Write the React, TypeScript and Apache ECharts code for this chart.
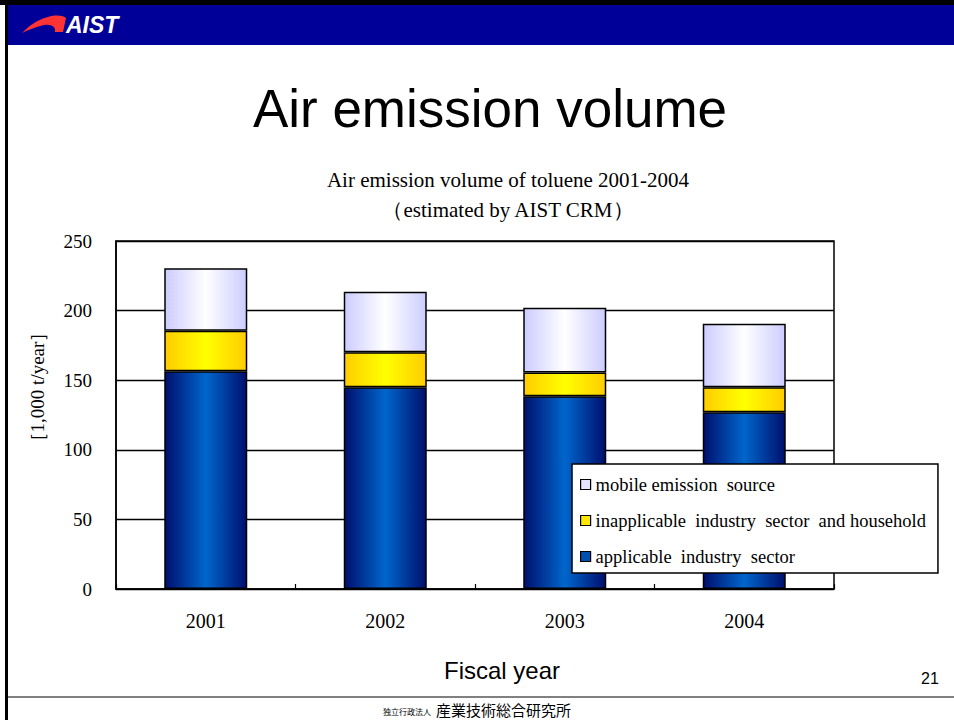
import React, { useEffect, useRef } from "react";
import * as echarts from "echarts";

const years = ["2001", "2002", "2003", "2004"];
const applicable = [156.5, 145, 138.5, 127];
const inapplicable = [29, 25, 17, 18];
const mobile = [45, 43.5, 46.5, 45.5];
const yTicks = { min: 0, max: 250, interval: 50 };

const NAME_APP = "applicable  industry  sector";
const NAME_INAPP = "inapplicable  industry  sector  and household";
const NAME_MOB = "mobile emission  source";

const SERIF = "'Liberation Serif', 'Times New Roman', serif";
const SANS = "'Liberation Sans', Arial, sans-serif";

const grad = (edge: string, mid: string) =>
  new echarts.graphic.LinearGradient(0, 0, 1, 0, [
    { offset: 0, color: edge },
    { offset: 0.5, color: mid },
    { offset: 1, color: edge },
  ]);

let registered = false;
function registerLogo() {
  if (registered) return;
  registered = true;
  echarts.graphic.registerShape(
    "aistswoosh",
    echarts.graphic.extendPath(
      "M0 19 C6 13 14 6 26 3 C33 1 40 1 44 4 L41 18 L33 18 C34 13 30 10 22 11 C13 13 6 16 0 19 Z",
      {}
    ) as any
  );
}

export default function App() {
  const ref = useRef<HTMLDivElement>(null);
  useEffect(() => {
    document.body.style.margin = "0";
    registerLogo();
    const chart = echarts.init(ref.current!, null, { renderer: "svg" });
    const border = { borderColor: "#000", borderWidth: 1.5 };
    chart.setOption({
      animation: false,
      backgroundColor: "#fff",
      title: {
        text: "Air emission volume of toluene 2001-2004\n（estimated by AIST CRM）",
        left: 503,
        top: 160,
        textAlign: "center",
        textStyle: {
          fontFamily: SERIF,
          fontSize: 21,
          fontWeight: "normal",
          color: "#000",
          lineHeight: 30,
        },
      },
      grid: {
        left: 116,
        right: 120,
        top: 241,
        bottom: 131,
        show: true,
        borderColor: "#000",
        borderWidth: 1.5,
        backgroundColor: "transparent",
      },
      legend: {
        orient: "vertical",
        left: 572,
        top: 464,
        padding: [11, 12, 7, 8],
        itemGap: 17,
        itemWidth: 10,
        itemHeight: 10,
        itemTextGap: 3,
        backgroundColor: "#fff",
        borderColor: "#000",
        borderWidth: 1.5,
        selectedMode: false,
        textStyle: { fontFamily: SERIF, fontSize: 18.5, color: "#000", lineHeight: 18 },
        data: [
          { name: NAME_MOB, icon: "rect", itemStyle: { color: "#E4E4FF", borderColor: "#000", borderWidth: 1.2 } },
          { name: NAME_INAPP, icon: "rect", itemStyle: { color: "#FFE800", borderColor: "#000", borderWidth: 1.2 } },
          { name: NAME_APP, icon: "rect", itemStyle: { color: "#0050B0", borderColor: "#000", borderWidth: 1.2 } },
        ],
      },
      xAxis: {
        type: "category",
        data: years,
        axisLine: { lineStyle: { color: "#000", width: 1.5 } },
        axisTick: { show: true, inside: true, length: 5, lineStyle: { color: "#000", width: 1.2 } },
        axisLabel: { fontFamily: SERIF, fontSize: 20, color: "#000", margin: 22 },
        splitLine: { show: false },
      },
      yAxis: {
        type: "value",
        min: yTicks.min,
        max: yTicks.max,
        interval: yTicks.interval,
        axisLine: { show: true, lineStyle: { color: "#000", width: 1.5 } },
        axisTick: { show: false },
        axisLabel: { fontFamily: SERIF, fontSize: 19, color: "#000", margin: 24 },
        splitLine: { show: true, lineStyle: { color: "#000", width: 1.4 } },
      },
      series: [
        {
          name: NAME_APP,
          type: "bar",
          stack: "total",
          barWidth: 83,
          data: applicable,
          itemStyle: { color: grad("#00106E", "#0066CC"), ...border },
        },
        {
          name: NAME_INAPP,
          type: "bar",
          stack: "total",
          barWidth: 83,
          data: inapplicable,
          itemStyle: { color: grad("#FFCC00", "#FFFF00"), ...border },
        },
        {
          name: NAME_MOB,
          type: "bar",
          stack: "total",
          barWidth: 83,
          data: mobile,
          itemStyle: { color: grad("#CCCCFF", "#FFFFFF"), ...border },
        },
      ],
      graphic: [
        { type: "rect", shape: { x: 0, y: 0, width: 954, height: 5 }, style: { fill: "#000" }, z: 10 },
        { type: "rect", shape: { x: 5, y: 0, width: 3, height: 720 }, style: { fill: "#000" }, z: 10 },
        { type: "rect", shape: { x: 8, y: 5, width: 946, height: 40 }, style: { fill: "#000099" }, z: 10 },
        {
          type: "aistswoosh",
          x: 22,
          y: 14,
          scaleX: 1,
          scaleY: 1,
          style: { fill: "#FF3333" },
          z: 11,
        },
        {
          type: "text",
          x: 66,
          y: 25,
          style: {
            text: "AIST",
            fill: "#fff",
            font: "italic bold 23px " + SANS,
            verticalAlign: "middle",
          },
          z: 11,
        },
        {
          type: "text",
          x: 490,
          y: 108,
          style: {
            text: "Air emission volume",
            fill: "#000",
            font: "53px " + SANS,
            align: "center",
            verticalAlign: "middle",
          },
        },
        {
          type: "text",
          x: 37,
          y: 387,
          rotation: Math.PI / 2,
          style: {
            text: "［1,000 t/year］",
            fill: "#000",
            font: "19px " + SERIF,
            align: "center",
            verticalAlign: "middle",
          },
        },
        {
          type: "text",
          x: 502,
          y: 670,
          style: {
            text: "Fiscal year",
            fill: "#000",
            font: "24px " + SANS,
            align: "center",
            verticalAlign: "middle",
          },
        },
        {
          type: "text",
          x: 930,
          y: 678,
          style: {
            text: "21",
            fill: "#000",
            font: "16px " + SANS,
            align: "center",
            verticalAlign: "middle",
          },
        },
        {
          type: "line",
          shape: { x1: 8, y1: 697, x2: 954, y2: 697 },
          style: { stroke: "#808080", lineWidth: 2 },
        },
        {
          type: "text",
          x: 431,
          y: 711,
          style: {
            text: "独立行政法人",
            fill: "#000",
            font: "8px 'Noto Sans CJK JP', sans-serif",
            align: "right",
            verticalAlign: "middle",
          },
        },
        {
          type: "text",
          x: 436,
          y: 709,
          style: {
            text: "産業技術総合研究所",
            fill: "#000",
            font: "15px 'Noto Sans CJK JP', sans-serif",
            align: "left",
            verticalAlign: "middle",
          },
        },
      ],
    });
    return () => chart.dispose();
  }, []);
  return <div ref={ref} style={{ width: 954, height: 720 }} />;
}
